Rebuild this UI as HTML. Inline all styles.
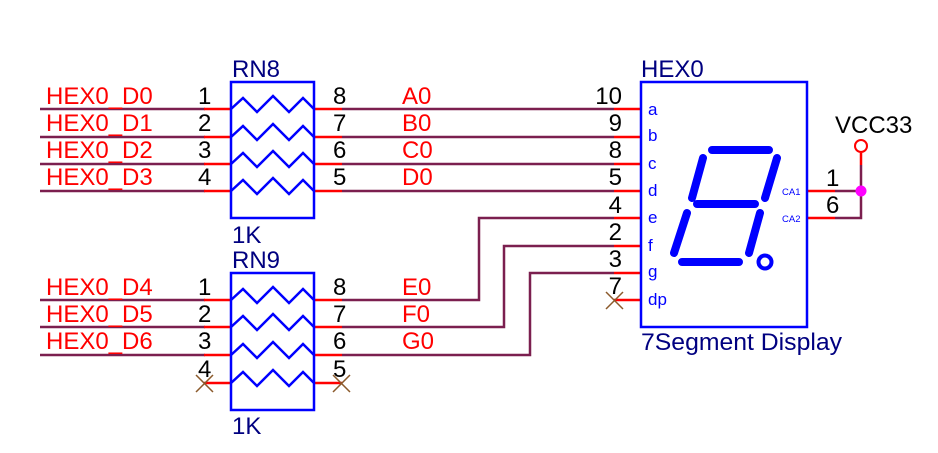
<!DOCTYPE html>
<html><head><meta charset="utf-8"><style>
body{margin:0;background:#fff}
svg{display:block;font-family:"Liberation Sans",Arial,sans-serif}
</style></head><body>
<svg width="938" height="453" viewBox="0 0 938 453" xmlns="http://www.w3.org/2000/svg">
<g stroke="#7b1f4f" stroke-width="2.5" fill="none">
<path d="M40 109H205M40 137H205M40 164H205M40 191H205"/>
<path d="M40 300H205M40 327H205M40 355H205"/>
<path d="M342 109H614M342 137H614M342 164H614M342 191H614"/>
<path d="M342 300H479V218H614M342 327H504V246H614M342 355H530V273H614"/>
<path d="M835 191H861M835 218H861V165"/>
</g>
<g stroke="#ff0000" stroke-width="2.5" fill="none">
<path d="M204 109H231M204 137H231M204 164H231M204 191H231M314 109H342M314 137H342M314 164H342M314 191H342"/>
<path d="M204 300H231M204 327H231M204 355H231M204 383H231M314 300H342M314 327H342M314 355H342M314 383H342"/>
<path d="M614 109H641M614 137H641M614 164H641M614 191H641M614 218H641M614 246H641M614 273H641M614 300H641"/>
<path d="M807 191H835M807 218H835M861 165V153"/>
<circle cx="861" cy="146" r="6" stroke-width="2"/>
</g>
<circle cx="861" cy="191" r="5.5" fill="#ff00ff"/>
<g stroke="#8b5a2b" stroke-width="1.5">
<path d="M196 375l17 17M213 375l-17 17M333 375l17 17M350 375l-17 17M606 292l17 17M623 292l-17 17"/>
</g>
<g stroke="#0000ff" stroke-width="2.5" fill="none">
<rect x="231" y="82" width="83" height="136"/>
<rect x="231" y="273" width="83" height="137"/>
<rect x="641" y="82" width="166" height="245"/>
<path d="M231 109L243 98L257 112L273 96L289 112L303 98L314 109"/>
<path d="M231 137L243 126L257 140L273 124L289 140L303 126L314 137"/>
<path d="M231 164L243 153L257 167L273 151L289 167L303 153L314 164"/>
<path d="M231 191L243 180L257 194L273 178L289 194L303 180L314 191"/>
<path d="M231 300L243 289L257 303L273 287L289 303L303 289L314 300"/>
<path d="M231 327L243 316L257 330L273 314L289 330L303 316L314 327"/>
<path d="M231 355L243 344L257 358L273 342L289 358L303 344L314 355"/>
<path d="M231 383L243 372L257 386L273 370L289 386L303 372L314 383"/>
</g>
<g stroke="#0000ff" stroke-width="8" stroke-linecap="round" fill="none">
<path d="M712 150H769M777 158L765 198M703 158L692 198M697 204H755M687 213L674 253M760 213L749 253M682 262H739"/>
</g>
<circle cx="765" cy="262" r="6.5" stroke="#0000ff" stroke-width="4" fill="none"/>
<g fill="#ff0000" font-size="24">
<text x="46" y="104">HEX0_D0</text><text x="46" y="131">HEX0_D1</text><text x="46" y="158">HEX0_D2</text><text x="46" y="185">HEX0_D3</text>
<text x="46" y="295">HEX0_D4</text><text x="46" y="322">HEX0_D5</text><text x="46" y="349">HEX0_D6</text>
<text x="402" y="104">A0</text><text x="402" y="131">B0</text><text x="402" y="158">C0</text><text x="402" y="185">D0</text>
<text x="402" y="295">E0</text><text x="402" y="322">F0</text><text x="402" y="349">G0</text>
</g>
<g fill="#000" font-size="24">
<text x="198" y="104">1</text><text x="198" y="131">2</text><text x="198" y="158">3</text><text x="198" y="185">4</text>
<text x="198" y="295">1</text><text x="198" y="322">2</text><text x="198" y="349">3</text><text x="198" y="377">4</text>
<text x="333" y="104">8</text><text x="333" y="131">7</text><text x="333" y="158">6</text><text x="333" y="185">5</text>
<text x="333" y="295">8</text><text x="333" y="322">7</text><text x="333" y="349">6</text><text x="333" y="377">5</text>
<g text-anchor="end">
<text x="622" y="104">10</text><text x="622" y="131">9</text><text x="622" y="158">8</text><text x="622" y="185">5</text>
<text x="622" y="213">4</text><text x="622" y="240">2</text><text x="622" y="267">3</text><text x="622" y="294">7</text>
</g>
<text x="826" y="186">1</text><text x="826" y="213">6</text>
<text x="835" y="133">VCC33</text>
</g>
<g fill="#000080" font-size="24">
<text x="232" y="77">RN8</text><text x="232" y="243">1K</text>
<text x="232" y="268">RN9</text><text x="232" y="434">1K</text>
<text x="641" y="77">HEX0</text>
<text x="641" y="350" textLength="201" lengthAdjust="spacingAndGlyphs">7Segment Display</text>
</g>
<g fill="#0000ff" font-size="17">
<text x="648" y="115">a</text><text x="648" y="141">b</text><text x="648" y="169">c</text><text x="648" y="196">d</text>
<text x="648" y="223">e</text><text x="648" y="251">f</text><text x="648" y="277">g</text><text x="648" y="305">dp</text>
</g>
<g fill="#0000ff" font-size="9.5">
<text x="782" y="195">CA1</text><text x="782" y="222">CA2</text>
</g>
</svg>
</body></html>
